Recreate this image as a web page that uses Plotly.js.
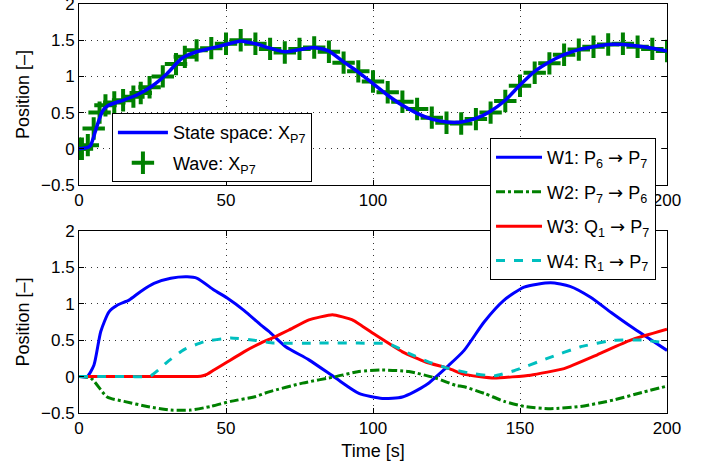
<!DOCTYPE html>
<html>
<head>
<meta charset="utf-8">
<script src="https://cdn.plot.ly/plotly-3.0.1.min.js"></script>
<style>html,body{margin:0;padding:0;background:#fff;}#chart{width:708px;height:465px;}</style>
</head>
<body>
<div id="chart"></div>
<script>
// ---- Top panel: state space line ----
const ssTime = [0,3,4,6,8,10,15,20,25,30,35,40,45,50,55,60,65,70,75,80,85,90,95,100,105,110,115,120,125,130,135,140,145,150,155,160,165,170,175,180,185,190,195,200];
const ssPos  = [0,0.02,0.05,0.3,0.52,0.6,0.67,0.75,0.87,1.04,1.25,1.34,1.39,1.44,1.49,1.45,1.39,1.34,1.37,1.40,1.35,1.20,1.06,0.90,0.74,0.60,0.49,0.41,0.37,0.37,0.42,0.52,0.67,0.88,1.07,1.20,1.30,1.37,1.41,1.44,1.44,1.42,1.39,1.35];
// ---- Top panel: wave markers ----
const waveTime = [0,1,3,5,7,9,12,15,18.5,21,24,28.5,33,36,40,45,50,55,60,65,70,75,80,85,90,95,100,105,110,115,120,125,130,135,140,145,150,155,160,165,170,175,180,185,190,195,200];
const wavePos  = [0,0,0.05,0.28,0.5,0.6,0.64,0.67,0.72,0.77,0.85,1.0,1.17,1.27,1.36,1.39,1.45,1.5,1.45,1.38,1.33,1.38,1.40,1.34,1.19,1.07,0.93,0.78,0.65,0.55,0.43,0.36,0.35,0.41,0.50,0.66,0.87,1.05,1.18,1.30,1.37,1.41,1.44,1.45,1.41,1.38,1.35];
// ---- Bottom panel ----
const w1Time = [0,2.8,5.1,7.4,10.2,13,17,21,25.5,31.2,36.8,40.2,45.9,50.4,56.1,61.8,64.6,70.3,78.2,87.3,95.2,103.2,110,117.9,125.9,131,137.8,144.6,151.4,160.4,167,174,181,188,194,200];
const w1Pos  = [0,0,0.16,0.62,0.89,0.98,1.05,1.17,1.28,1.35,1.37,1.35,1.19,1.08,0.91,0.71,0.62,0.41,0.23,-0.02,-0.23,-0.30,-0.28,-0.12,0.16,0.36,0.75,1.05,1.23,1.29,1.24,1.09,0.88,0.68,0.52,0.36];
const w2Time = [0,4,9.6,15.3,23.2,31.2,38,44.8,51.6,59.5,64.6,76,87.3,95.2,103.2,112.2,121.3,128.1,131,137.8,144.6,151.4,160.4,170.6,182,192.2,200];
const w2Pos  = [0,-0.02,-0.28,-0.34,-0.41,-0.46,-0.46,-0.41,-0.34,-0.28,-0.21,-0.09,0.0,0.07,0.09,0.07,-0.02,-0.12,-0.14,-0.23,-0.34,-0.41,-0.44,-0.41,-0.32,-0.21,-0.13];
const w3Time = [0,10,20,30,38,41.4,43.5,45.9,50.4,56.1,61.8,66.3,71.4,78.2,86.2,93,100.9,110,117.9,125.9,131,141.2,153.6,165,176.3,187.6,200];
const w3Pos  = [0,0,0,0,0,0.005,0.03,0.09,0.20,0.34,0.46,0.54,0.64,0.78,0.85,0.78,0.57,0.34,0.20,0.11,0.03,-0.02,0.02,0.11,0.30,0.50,0.65];
const w4Time = [0,8,16,22,24.4,27,30,35.7,42.5,51.6,59.5,66.3,80,95,105.4,112.2,119,125.9,132.7,141.2,148,159.3,170.6,182,192.2,200];
const w4Pos  = [0,0,0,0,0.01,0.09,0.20,0.37,0.48,0.53,0.50,0.46,0.46,0.46,0.45,0.32,0.20,0.11,0.05,0.01,0.08,0.25,0.41,0.50,0.50,0.46];

const xTicks = [0,50,100,150,200];
const yTicks = [-0.5,0,0.5,1,1.5,2];
const yTickText = ['\u22120.5','0','0.5','1','1.5','2'];

const FONT = 'Liberation Sans, Arial, Helvetica, sans-serif';
const ARROW = ' <span style="font-family:DejaVu Sans">\u2192</span> ';

const traces = [
  {x: waveTime, y: wavePos, xaxis:'x', yaxis:'y', mode:'markers', name:'Wave: X<sub>P7</sub>',
   legend:'legend', legendrank:2, legendgroup:'b',
   marker:{symbol:'cross-thin', size:16, color:'#008000', line:{color:'#008000', width:4}}},
  {x: ssTime, y: ssPos, xaxis:'x', yaxis:'y', mode:'lines', name:'State space: X<sub>P7</sub>',
   legend:'legend', legendrank:1, legendgroup:'a', line:{color:'#0000ff', width:3.5, shape:'spline', smoothing:0.6}},
  {x: w1Time, y: w1Pos, xaxis:'x2', yaxis:'y2', mode:'lines', name:'W1: P<sub>6</sub>' + ARROW + 'P<sub>7</sub>',
   legend:'legend2', legendgroup:'c', line:{color:'#0000ff', width:3, shape:'spline', smoothing:0.6}},
  {x: w2Time, y: w2Pos, xaxis:'x2', yaxis:'y2', mode:'lines', name:'W2: P<sub>7</sub>' + ARROW + 'P<sub>6</sub>',
   legend:'legend2', legendgroup:'d', line:{color:'#008000', width:3, dash:'dashdot', shape:'spline', smoothing:0.6}},
  {x: w3Time, y: w3Pos, xaxis:'x2', yaxis:'y2', mode:'lines', name:'W3: Q<sub>1</sub>' + ARROW + 'P<sub>7</sub>',
   legend:'legend2', legendgroup:'e', line:{color:'#ff0000', width:3, shape:'spline', smoothing:0.4}},
  {x: w4Time, y: w4Pos, xaxis:'x2', yaxis:'y2', mode:'lines', name:'W4: R<sub>1</sub>' + ARROW + 'P<sub>7</sub>',
   legend:'legend2', legendgroup:'f', line:{color:'#00bfbf', width:3, dash:'dash', shape:'spline', smoothing:0.4}}
];

const axBase = {
  showline:true, linecolor:'#000', linewidth:1, mirror:'ticks',
  ticks:'inside', ticklen:5, tickcolor:'#000', tickwidth:1,
  showgrid:true, gridcolor:'#333', griddash:'1px,5px', gridwidth:1,
  zeroline:false, ticklabeloverflow:'allow',
  tickfont:{family:FONT, size:17, color:'#000'}
};

const layout = {
  width:708, height:465,
  margin:{l:79, r:41, t:4, b:52},
  paper_bgcolor:'#fff', plot_bgcolor:'#fff',
  font:{family:FONT, size:17, color:'#000'},
  xaxis: Object.assign({}, axBase, {domain:[0,1], anchor:'y', range:[0,200], tickvals:xTicks}),
  yaxis: Object.assign({}, axBase, {domain:[0.5575,1], anchor:'x', range:[-0.5,2], tickvals:yTicks, ticktext:yTickText,
    title:{text:'Position [\u2013]', font:{family:FONT, size:18}, standoff:6}}),
  xaxis2: Object.assign({}, axBase, {domain:[0,1], anchor:'y2', range:[0,200], tickvals:xTicks,
    title:{text:'Time [s]', font:{family:FONT, size:18}, standoff:6}}),
  yaxis2: Object.assign({}, axBase, {domain:[0,0.445], anchor:'x2', range:[-0.5,2], tickvals:yTicks, ticktext:yTickText,
    title:{text:'Position [\u2013]', font:{family:FONT, size:18}, standoff:6}}),
  legend:{x:0.056, y:0.733, xanchor:'left', yanchor:'top', bgcolor:'#fff', bordercolor:'#000', borderwidth:1,
    font:{family:FONT, size:18}, tracegroupgap:4, itemwidth:50},
  legend2:{x:0.699, y:0.672, xanchor:'left', yanchor:'top', bgcolor:'#fff', bordercolor:'#000', borderwidth:1,
    font:{family:FONT, size:18}, tracegroupgap:8, itemwidth:46},
  showlegend:true
};

Plotly.newPlot('chart', traces, layout, {displayModeBar:false, staticPlot:true});
</script>
</body>
</html>
